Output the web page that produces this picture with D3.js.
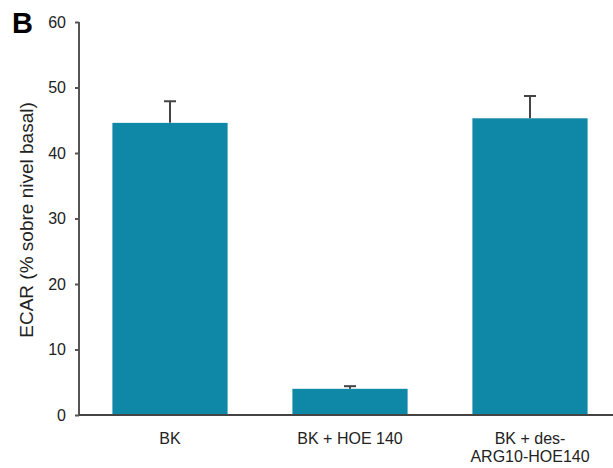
<!DOCTYPE html>
<html>
<head>
<meta charset="utf-8">
<script src="https://cdn.jsdelivr.net/npm/d3@7"></script>
<style>
  body { margin: 0; background: #fff; }
  text { font-family: "Liberation Sans", Arial, sans-serif; fill: #222; }
</style>
</head>
<body>
<script>
const categories = ['BK', 'BK + HOE 140', 'BK + des-\nARG10-HOE140'];
const means = [44.6, 4.0, 45.3];
const errors = [3.3, 0.4, 3.4];
const yTicks = [0, 10, 20, 30, 40, 50, 60];

const width = 613, height = 468;
const margin = { left: 79, right: -7, top: 22, bottom: 53 };

const data = categories.map((c, i) => ({ cat: c, mean: means[i], err: errors[i] }));

const svg = d3.select('body').append('svg')
  .attr('width', width)
  .attr('height', height);

const x = d3.scaleBand()
  .domain(categories)
  .range([margin.left + 1, width - margin.right])
  .paddingInner(0.36)
  .paddingOuter(0.18);

const y = d3.scaleLinear()
  .domain([0, 60])
  .range([height - margin.bottom, margin.top]);

// bars
svg.selectAll('rect.bar')
  .data(data)
  .enter()
  .append('rect')
  .attr('class', 'bar')
  .attr('x', d => x(d.cat))
  .attr('y', d => y(d.mean))
  .attr('width', x.bandwidth())
  .attr('height', d => y(0) - y(d.mean))
  .attr('fill', '#0f88a7');

// error bars (upper only)
const eb = svg.selectAll('g.err')
  .data(data)
  .enter()
  .append('g')
  .attr('class', 'err')
  .attr('stroke', '#444')
  .attr('stroke-width', 2);

eb.append('line')
  .attr('x1', d => x(d.cat) + x.bandwidth() / 2)
  .attr('x2', d => x(d.cat) + x.bandwidth() / 2)
  .attr('y1', d => y(d.mean))
  .attr('y2', d => y(d.mean + d.err));

eb.append('line')
  .attr('x1', d => x(d.cat) + x.bandwidth() / 2 - 6)
  .attr('x2', d => x(d.cat) + x.bandwidth() / 2 + 6)
  .attr('y1', d => y(d.mean + d.err))
  .attr('y2', d => y(d.mean + d.err));

// y axis
const yAxis = svg.append('g')
  .attr('transform', `translate(${margin.left}, 0)`)
  .call(d3.axisLeft(y).tickValues(yTicks).tickSize(4).tickPadding(9));
yAxis.select('.domain').attr('stroke', '#555').attr('stroke-width', 2)
  .attr('d', `M0,${y(60)}V${y(0)}`);
yAxis.selectAll('.tick line').attr('stroke', '#555').attr('stroke-width', 2);
yAxis.selectAll('.tick text')
  .style('font-family', '"Liberation Sans", Arial, sans-serif')
  .style('font-size', '16px')
  .attr('fill', '#333');

// x axis
const xAxis = svg.append('g')
  .attr('transform', `translate(0, ${y(0)})`)
  .call(d3.axisBottom(x).tickSize(0).tickPadding(20));
xAxis.select('.domain').attr('stroke', '#444').attr('stroke-width', 2)
  .attr('d', `M${margin.left},0H${width}`);
xAxis.selectAll('.tick text')
  .style('font-family', '"Liberation Sans", Arial, sans-serif')
  .style('font-size', '16px')
  .attr('fill', '#222')
  .each(function(d) {
    const t = d3.select(this);
    const lines = d.split('\n');
    t.text(null);
    lines.forEach((l, i) => {
      t.append('tspan')
        .attr('x', 0)
        .attr('dy', i === 0 ? '0.55em' : '1.12em')
        .text(l);
    });
  });

// y title
svg.append('text')
  .attr('transform', `translate(33, 220) rotate(-90)`)
  .attr('text-anchor', 'middle')
  .style('font-size', '19px')
  .text('ECAR (% sobre nivel basal)');

// panel letter
svg.append('text')
  .attr('x', 12)
  .attr('y', 33)
  .style('font-size', '29px')
  .style('font-weight', 'bold')
  .style('fill', '#000')
  .text('B');
</script>
</body>
</html>
